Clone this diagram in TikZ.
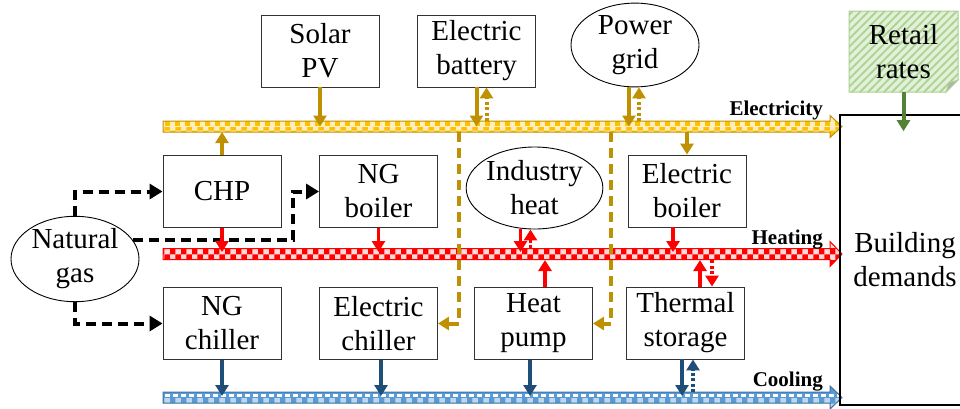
\documentclass[tikz,border=0pt]{standalone}
\usepackage{fontspec}
\setmainfont{Liberation Serif}
\usetikzlibrary{arrows.meta,shapes.geometric,patterns,calc}
\pgfdeclarepatternformonly{chk}{\pgfpointorigin}{\pgfpoint{5pt}{5pt}}{\pgfpoint{5pt}{5pt}}{%
  \pgfpathrectangle{\pgfpointorigin}{\pgfpoint{2.5pt}{2.5pt}}%
  \pgfpathrectangle{\pgfpoint{2.5pt}{2.5pt}}{\pgfpoint{2.5pt}{2.5pt}}%
  \pgfusepath{fill}}
\pgfdeclarepatternformonly{stripes}{\pgfpoint{-1pt}{-1pt}}{\pgfpoint{9pt}{9pt}}{\pgfpoint{8pt}{8pt}}{%
  \pgfsetlinewidth{1.6pt}%
  \pgfpathmoveto{\pgfpoint{-1pt}{-1pt}}\pgfpathlineto{\pgfpoint{9pt}{9pt}}%
  \pgfusepath{stroke}}
\definecolor{gold}{HTML}{BF9000}
\definecolor{goldf}{HTML}{FFC000}
\definecolor{cblue}{HTML}{1F4E79}
\definecolor{lblue}{HTML}{5B9BD5}
\definecolor{mblue}{HTML}{41719C}
\definecolor{dgreen}{HTML}{548235}
\definecolor{lgreen}{HTML}{A9D18E}
\definecolor{pgreen}{HTML}{E2F0D9}
\newcommand\bigtxt{\fontsize{29}{34}\selectfont}
\newcommand\busshape[2]{(163,#1-5.5) -- (830,#1-5.5) -- (830,#1-#2) -- (842,#1) -- (830,#1+#2) -- (830,#1+5.5) -- (163,#1+5.5) -- cycle}
\begin{document}
\begin{tikzpicture}[x=1pt,y=-1pt,
  box/.style={draw=black!80, line width=0.9pt, minimum width=118pt, minimum height=72pt, inner sep=0pt, align=center, font=\bigtxt},
  oval/.style={ellipse, draw=black, line width=0.9pt, minimum width=128pt, minimum height=82pt, inner sep=0pt, align=center, font=\bigtxt},
  tipa/.style={-{Triangle[width=13pt,length=11pt]}},
  ga/.style={tipa, color=gold, line width=4pt},
  gdot/.style={ga, dash pattern=on 3pt off 2.5pt},
  gdash/.style={ga, dash pattern=on 10pt off 6pt},
  ra/.style={tipa, color=red, line width=3.5pt},
  rdot/.style={ra, dash pattern=on 3pt off 2.5pt},
  ba/.style={tipa, color=cblue, line width=4pt},
  bdot/.style={ba, dash pattern=on 3pt off 2.5pt},
  ngas/.style={-{Triangle[width=15pt,length=13pt]}, color=black, line width=4pt, dash pattern=on 10pt off 6pt},
  lbl/.style={font=\fontsize{21}{24}\selectfont\bfseries, anchor=base east, inner sep=0pt}
]
\useasboundingbox (0,0) rectangle (960,408);
\clip (0,0) rectangle (960,408);

% electricity bus
\begin{scope}
  \clip \busshape{126.5}{11};
  \fill[goldf!25] (160,110) rectangle (845,140);
  \fill[pattern=checkerboard, pattern color=goldf] (160,127) rectangle (845,140);
  \draw[goldf, line width=4.5pt, dash pattern=on 5pt off 5pt] (165,123.5) -- (845,123.5);
\end{scope}
\draw[gold, line width=1pt] \busshape{126.5}{11};
% heating bus
\begin{scope}
  \clip \busshape{254}{12.5};
  \fill[red] (160,235) rectangle (845,270);
  \fill[pattern=checkerboard, pattern color=white!85!red] (160,235) rectangle (845,270);
\end{scope}
\draw[red, line width=1pt] \busshape{254}{12.5};
% cooling bus
\begin{scope}
  \clip \busshape{397.5}{11.5};
  \fill[lblue] (160,380) rectangle (845,412);
  \fill[pattern=checkerboard, pattern color=white!60!lblue] (160,398) rectangle (845,412);
  \draw[white, line width=3.5pt, dash pattern=on 5pt off 3pt] (165,395.5) -- (845,395.5);
\end{scope}
\draw[mblue, line width=1pt] \busshape{397.5}{11.5};

\coordinate (ebc) at (0,126.5); \coordinate (ebb) at (0,132); \coordinate (ebt) at (0,121);
\coordinate (hbc) at (0,252);   \coordinate (hbb) at (0,260); \coordinate (hbt) at (0,248);
\coordinate (cbc) at (0,396);   \coordinate (cbt) at (0,392);

\node[lbl] (lelec) at (823,115) {Electricity};
\node[lbl] (lheat) at (823,244) {Heating};
\node[lbl] (lcool) at (823,386) {Cooling};

% retail rates note
\path[preaction={fill=pgreen}, preaction={pattern=stripes, pattern color=lgreen}, draw=lgreen, line width=1pt]
  (849,11) -- (958,11) -- (958,80) -- (946,92) -- (849,92) -- cycle;
\path[fill=black!30, draw=lgreen, line width=0.8pt] (946,92) -- (949,83) -- (958,80) -- cycle;
\node[minimum width=109pt, minimum height=81pt, inner sep=0pt, align=center, font=\bigtxt] (retail) at (903.5,51.5) {Retail\\rates};

% building
\node[draw=black, line width=2pt, minimum width=130pt, minimum height=290pt, inner sep=0pt, align=center, font=\bigtxt] (bld) at (905,260) {Building\\demands};

% nodes
\node[box] (solar) at (320,51) {Solar\\PV};
\node[box] (ebat) at (476.5,51) {Electric\\battery};
\node[oval] (grid) at (635,45) {Power\\grid};
\node[box] (chp) at (222,191.5) {CHP};
\node[box] (ngb) at (378.5,191.5) {NG\\boiler};
\node[oval] (ind) at (534.5,188) {Industry\\heat};
\node[box] (eboil) at (687,191) {Electric\\boiler};
\node[oval] (ng) at (75,259) {Natural\\gas};
\node[box] (ngc) at (222,323.5) {NG\\chiller};
\node[box] (echill) at (378.5,323.5) {Electric\\chiller};
\node[box] (hp) at (533.5,323.5) {Heat\\pump};
\node[box] (ts) at (685.5,323) {Thermal\\storage};

% natural gas
\draw[ngas] (ng.north) |- (chp.west);
\draw[ngas] (ng.18) -| ($(ngb.west)+(-26,0)$) -- (ngb.west);
\draw[ngas] (ng.south) |- (ngc.west);

% electricity
\draw[ga] (solar.south) -- (solar.south |- ebc);
\path (ebat.south) ++(10,0) coordinate (b2);
\draw[ga] (ebat.south) -- (ebat.south |- ebc);
\draw[gdot] (b2 |- ebt) -- (b2);
\path (grid.south) ++(-6,0) coordinate (g1) ++(10,0) coordinate (g2);
\draw[ga] (g1) -- (g1 |- ebc);
\draw[gdot] (g2 |- ebt) -- (g2);
\draw[ga] (chp.north) -- (chp.north |- ebb);
\draw[ga] (eboil.north |- ebb) -- (eboil.north);
\coordinate (tap1) at (459,132);
\coordinate (tap2) at (611,132);
\draw[gdash] (tap1) |- (echill.east);
\draw[gdash] (tap2) |- (hp.east);

% heating
\draw[ra] (chp.south) -- (chp.south |- hbc);
\draw[ra] (ngb.south) -- (ngb.south |- hbc);
\path (ind.south) ++(-14,0) coordinate (i1) ++(10,0) coordinate (i2);
\draw[ra] (i1) -- (i1 |- hbc);
\draw[rdot] (i2 |- hbt) -- (i2);
\path (hp.north) ++(11.5,0) coordinate (h1);
\draw[ra] (h1) -- (h1 |- hbb);
\path (eboil.south) ++(-14,0) coordinate (e1);
\draw[ra] (e1) -- (e1 |- hbc);
\path (ts.north) ++(14.5,0) coordinate (t1) ++(12,0) coordinate (t2);
\draw[ra] (t1) -- (t1 |- hbb);
\draw[rdot] (t2 |- hbb) -- (t2);

% cooling
\draw[ba] (ngc.south) -- (ngc.south |- cbc);
\path (echill.south) ++(2.5,0) coordinate (c1);
\draw[ba] (c1) -- (c1 |- cbc);
\path (hp.south) ++(-3.5,0) coordinate (c2);
\draw[ba] (c2) -- (c2 |- cbc);
\path (ts.south) ++(-3.5,0) coordinate (c3) ++(11,0) coordinate (c4);
\draw[ba] (c3) -- (c3 |- cbc);
\draw[bdot] (c4 |- cbt) -- (c4);

% retail -> building
\draw[tipa, color=dgreen, line width=4pt] (retail.south) -- ++(0,39);
\end{tikzpicture}
\end{document}
